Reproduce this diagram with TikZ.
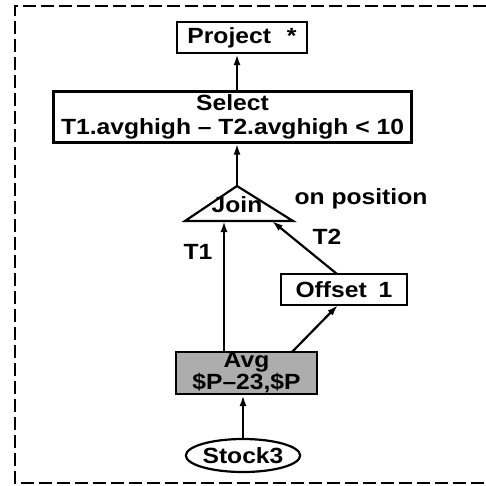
\documentclass[tikz,border=0pt]{standalone}
\usepackage{fontspec}
\setmainfont{Liberation Sans}[FakeStretch=1.12]
\usetikzlibrary{shapes.geometric,arrows.meta}
\begin{document}
\begin{tikzpicture}[x=1pt,y=-1pt,
  every node/.style={font=\fontsize{22}{24}\selectfont\bfseries},
  opbox/.style={draw,line width=2.2pt,rectangle,inner sep=0pt,align=center},
  arr/.style={line width=2.2pt,-{Latex[length=11pt,width=7pt]}},
  lbl/.style={inner sep=0pt}]
\useasboundingbox (0,0) rectangle (486,485);
% border (right side cut off)
\draw[line width=2pt,dash pattern=on 13pt off 5pt] (486,6) -- (15,6) -- (15,483) -- (486,483);
% nodes
\node[opbox,minimum width=130pt,minimum height=31pt] (project) at (242,37.5) {Project\hspace{16pt}*};
\node[opbox,minimum width=358pt,minimum height=51pt] (select) at (232.5,117) {Select\\T1.avghigh -- T2.avghigh < 10};
\coordinate (jt) at (237,186);
\coordinate (jl) at (185,221);
\coordinate (jr) at (293,221);
\draw[line width=2.2pt,line join=miter] (jt) -- (jl) -- (jr) -- cycle;
\node[lbl] (join) at (237,205) {Join};
\node[lbl] (onpos) at (361,199) {on position};
\node[opbox,minimum width=126pt,minimum height=31pt] (offset) at (344,289.5) {Offset\hspace{12pt}1};
\node[opbox,fill=black!32,minimum width=141pt,minimum height=42pt,font=\fontsize{22}{18}\selectfont\bfseries] (avg) at (246.5,373) {Avg\\\$P--23,\$P};
\node[draw,ellipse,line width=2.2pt,minimum width=110pt,minimum height=33pt,inner sep=0pt] (stock) at (243,455.5) {Stock3};
\node[lbl] (t1) at (198,252) {T1};
\node[lbl] (t2) at (327,237) {T2};
% connector end points
\coordinate (t1in) at (224,221);
\coordinate (t2in) at (272,221);
\coordinate (t1out) at (224,352);
\coordinate (offin) at (338,305);
\coordinate (offout) at (292,352);
\coordinate (t2out) at (337,274);
% connectors
\draw[arr] (stock.north) -- (avg.south -| stock.north);
\draw[arr] (t1out) -- (t1in);
\draw[arr] (offout) -- (offin);
\draw[arr] (t2out) -- (t2in);
\draw[arr] (jt) -- (select.south -| jt);
\draw[arr] (select.north -| jt) -- (project.south -| jt);
\end{tikzpicture}
\end{document}
